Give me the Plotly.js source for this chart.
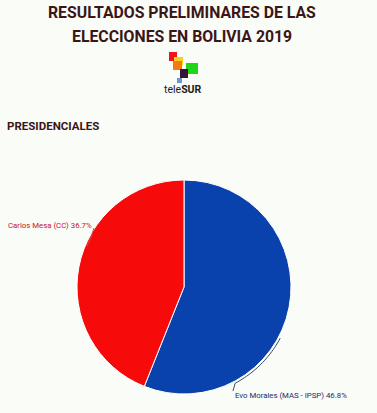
<!DOCTYPE html>
<html>
<head>
<meta charset="utf-8">
<script src="https://cdn.plot.ly/plotly-3.0.1.min.js"></script>
<style>html,body{margin:0;padding:0;background:#fafcf8;}#chart{width:377px;height:413px;}</style>
</head>
<body>
<div id="chart"></div>
<script>
const candidates = ["Evo Morales (MAS - IPSP)", "Carlos Mesa (CC)"];
const votes = [46.8, 36.7];
const colors = ["#0a42ad", "#f70a0a"];
const labelColors = ["#1b2a66", "#c8141e"];

const W = 377, H = 413;
const px = x => x / W;
const py = y => 1 - y / H;

const cx = 184, cy = 287, R = 109;
function arcPath(a0, a1, r) {
  let d = "";
  const n = 24;
  for (let i = 0; i <= n; i++) {
    const a = (a0 + (a1 - a0) * i / n) * Math.PI / 180;
    const x = cx + r * Math.sin(a), y = cy - r * Math.cos(a);
    d += (i === 0 ? "M" : "L") + px(x).toFixed(4) + "," + py(y).toFixed(4) + " ";
  }
  return d;
}

const trace = {
  type: "pie",
  values: votes,
  labels: candidates,
  marker: {colors: colors, line: {color: "#ffffff", width: 1}},
  sort: false,
  direction: "clockwise",
  rotation: 0,
  textinfo: "none",
  hoverinfo: "label+percent",
  showlegend: false,
  domain: {x: [px(74), px(294)], y: [py(394), py(180)]}
};

const logoSquares = [
  [169, 52, 177, 61, "#f2131a"],
  [174, 57, 183, 65, "#f7d21a"],
  [173, 61, 182, 70, "#f57a12"],
  [186, 63, 198, 74, "#1fd61a"],
  [180, 69, 188, 78, "#3a1238"],
  [177, 78, 182, 83, "#6a9ad6"]
];
const shapes = logoSquares.map(s => ({
  type: "rect", xref: "paper", yref: "paper",
  x0: px(s[0]), x1: px(s[2]), y0: py(s[3]), y1: py(s[1]),
  fillcolor: s[4], line: {width: 0}
}));
shapes.push({type: "path", xref: "paper", yref: "paper", path: arcPath(118, 152, R) + "L" + px(233).toFixed(4) + "," + py(391).toFixed(4), line: {color: "#3a4a6a", width: 1}});
shapes.push({type: "path", xref: "paper", yref: "paper", path: "M" + px(94) + "," + py(228) + " Q" + px(92) + "," + py(236) + " " + px(87) + "," + py(246), line: {color: "#c85050", width: 1}});

const pct = votes.map(v => v.toFixed(1) + "%");

const annotations = [
  {text: "RESULTADOS PRELIMINARES DE LAS", x: px(182), y: py(12.5), xref: "paper", yref: "paper", showarrow: false, xanchor: "center", yanchor: "middle",
   font: {family: "Roboto, sans-serif", size: 15.8, color: "#3b1616", weight: "bold"}},
  {text: "ELECCIONES EN BOLIVIA 2019", x: px(182), y: py(36.5), xref: "paper", yref: "paper", showarrow: false, xanchor: "center", yanchor: "middle",
   font: {family: "Roboto, sans-serif", size: 15.8, color: "#3b1616", weight: "bold"}},
  {text: "tele<b>SUR</b>", x: px(183), y: py(89), xref: "paper", yref: "paper", showarrow: false, xanchor: "center", yanchor: "middle",
   font: {family: "Roboto, sans-serif", size: 10.5, color: "#1a1a1a"}},
  {text: "PRESIDENCIALES", x: px(5), y: py(126), xref: "paper", yref: "paper", showarrow: false, xanchor: "left", yanchor: "middle",
   font: {family: "Roboto, sans-serif", size: 11.5, color: "#3b1616", weight: "bold"}},
  {text: candidates[1] + " " + pct[1], x: px(94), y: py(225), xref: "paper", yref: "paper", showarrow: false, xanchor: "right", yanchor: "middle",
   font: {family: "Roboto, sans-serif", size: 7.8, color: labelColors[1]}},
  {text: candidates[0] + " " + pct[0], x: px(233), y: py(395), xref: "paper", yref: "paper", showarrow: false, xanchor: "left", yanchor: "middle",
   font: {family: "Roboto, sans-serif", size: 7.8, color: labelColors[0]}}
];

const layout = {
  width: W, height: H,
  margin: {l: 0, r: 0, t: 0, b: 0},
  paper_bgcolor: "#fafcf8",
  plot_bgcolor: "#fafcf8",
  showlegend: false,
  shapes: shapes,
  annotations: annotations
};

Plotly.newPlot("chart", [trace], layout, {displayModeBar: false, staticPlot: true});
</script>
</body>
</html>
